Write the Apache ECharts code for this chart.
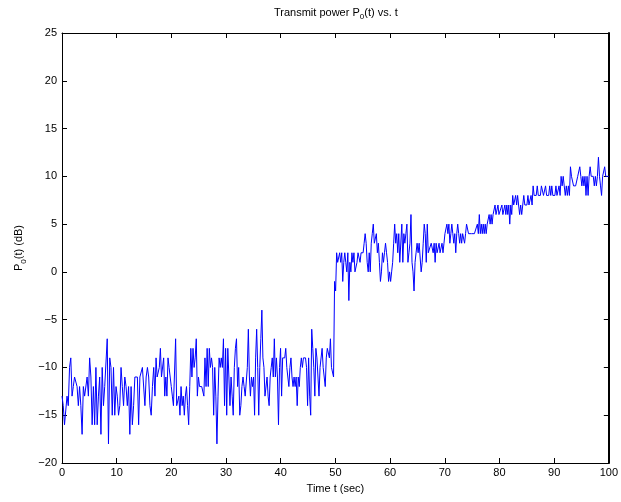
<!DOCTYPE html>
<html><head><meta charset="utf-8">
<script src="https://cdn.jsdelivr.net/npm/echarts@6/dist/echarts.min.js"></script>
<style>html,body{margin:0;padding:0;background:#fff}#c{width:621px;height:502px}</style>
</head><body><div id="c"></div>
<script>
// Tick values
const xTicks = [0,10,20,30,40,50,60,70,80,90,100];
const yTicks = [-20,-15,-10,-5,0,5,10,15,20,25];

// Transmit power P0(t) in dB, read in time segments (start/end seconds)
const segStarts = [0, 17.0, 33.7, 49.85, 66.8, 83.5];
const segEnds   = [17.0, 33.7, 49.85, 66.8, 83.5, 100];

const power1 = [-13,-14,-16,-16,-13,-14,-10,-9,-13,-12,-11,-11,-12,-14,-12,-14,-17,-12,-13,-13,-11,-13,-9,-11,-16,-12,-16,-10,-16,-13,-11,-17,-10,-14,-12,-12,-7,-18,-9,-10,-15,-10,-15,-12,-13,-15,-14,-10,-12,-14,-11,-12,-14,-12,-17,-12,-16,-14,-11,-11,-11,-16,-11,-11,-10,-10,-14,-11,-10,-11,-14,-15,-12,-10];
const power2 = [-13,-9,-11,-11,-10,-8,-11,-11,-9,-13,-11,-13,-9,-10,-11,-12,-13,-14,-14,-7,-14,-14,-13,-15,-12,-14,-13,-15,-13,-12,-14,-16,-12,-8,-11,-8,-10,-9,-7,-13,-11,-12,-12,-12,-12,-13,-9,-12,-8,-12,-8,-10,-9,-10,-15,-10,-13,-18,-13,-9,-10,-9,-10,-7,-14,-8,-15,-8,-11,-14,-11,-13,-15,-10,-8,-7,-12,-10,-15,-14,-12,-11,-12,-13];
const power3 = [-13,-10,-6,-11,-13,-11,-12,-11,-15,-9,-6,-10,-15,-10,-7,-4,-9,-10,-13,-13,-11,-13,-14,-11,-10,-9,-11,-7,-11,-9,-11,-16,-10,-8,-13,-9,-9,-9,-8,-10,-11,-12,-10,-9,-11,-12,-11,-12,-11,-14,-11,-12,-10,-9,-10,-9,-9,-9,-10,-14,-9,-13,-15,-6,-8,-10,-13,-8,-9,-9,-13,-10,-10,-8,-10,-10,-12,-9,-8,-8,-9,-7,-10,-10,-11];
const power4 = [-1,-2,2,1,1,2,1,2,-1,1,2,1,0,2,-3,1,0,2,1,2,0,0,1,2,2,1,2,2,2,3,4,3,1,0,2,0,3,4,5,3,3,4,2,3,1,-1,0,2,1,2,3,2,1,-1,0,-1,0,1,3,5,3,4,2,4,1,1,5,1,4,3,4,5,1,2,3,6,1,0,-2,1,2,3,2,3,3,0,1,3,5,4,1];
const power5 = [5,2,2,2,3,3,2,3,1,3,2,2,3,2,2,3,2,3,4,4,5,4,5,3,4,5,4,3,4,2,4,5,4,3,4,3,4,4,3,4,5,5,4,4,4,4,4,4,4,4,4,5,4,6,4,5,4,5,4,5,4,5,5,6,5,6,5,6,6,7,6,6,7,6,6,6,7,6,6,7,6,7,6,7,5,7,6,8,7,7,8,7,8];
const power6 = [7,6,7,6,7,8,7,7,7,8,7,7,8,7,9,8,8,8,9,8,8,8,9,9,8,8,9,8,8,8,9,8,9,8,8,8,9,8,8,9,8,10,9,10,9,8,9,8,9,8,11,10,10,9,9,9,9,10,10,11,10,9,10,9,10,8,10,8,10,11,10,10,10,9,10,9,10,12,10,9,8,10,10,11,10,10,10,10];

const segments = [power1, power2, power3, power4, power5, power6];
const lineData = [];
segments.forEach((seg, k) => {
  const last = k === segments.length - 1;
  const step = (segEnds[k] - segStarts[k]) / (last ? seg.length - 1 : seg.length);
  seg.forEach((v, i) => lineData.push([segStarts[k] + i * step, v]));
});

const FONT = "'Liberation Sans', Arial, Helvetica, sans-serif";
const fmtNum = v => (v < 0 ? '\u2212' + Math.abs(v) : String(v));
const boxLine = w => ({show: true, onZero: false, lineStyle: {color: '#000', width: w}});
const inTick = {show: true, inside: true, length: 5, lineStyle: {color: '#000', width: 1}};

const chart = echarts.init(document.getElementById('c'), null, {renderer: 'canvas'});
chart.setOption({
  animation: false,
  backgroundColor: '#ffffff',
  grid: {left: 62, right: 9, top: 33, bottom: 39, containLabel: false},
  graphic: [{
    type: 'text',
    left: 274,
    top: 7,
    style: {
      text: '{a|Transmit power P}{s|0}{a|(t) vs. t}',
      rich: {
        a: {fontFamily: FONT, fontSize: 11, fill: '#000', lineHeight: 16},
        s: {fontFamily: FONT, fontSize: 8, fill: '#000', lineHeight: 8, verticalAlign: 'bottom'}
      }
    }
  }],
  xAxis: [{
    type: 'value', position: 'bottom', min: xTicks[0], max: xTicks[xTicks.length-1], interval: 10,
    name: 'Time t (sec)', nameLocation: 'middle', nameGap: 20,
    nameTextStyle: {fontFamily: FONT, fontSize: 11, color: '#000'},
    axisLine: boxLine(1),
    axisTick: inTick,
    axisLabel: {fontFamily: FONT, fontSize: 11, color: '#000', margin: 4, formatter: fmtNum},
    splitLine: {show: false}
  }, {
    type: 'value', position: 'top', min: xTicks[0], max: xTicks[xTicks.length-1], interval: 10,
    axisLine: boxLine(1),
    axisTick: inTick,
    axisLabel: {show: false}, splitLine: {show: false}
  }],
  yAxis: [{
    type: 'value', position: 'left', min: yTicks[0], max: yTicks[yTicks.length-1], interval: 5,
    name: '{a|P}{s|0}{a|(t) (dB)}', nameLocation: 'middle', nameGap: 31, nameRotate: 90,
    nameTextStyle: {
      rich: {
        a: {fontFamily: FONT, fontSize: 11, color: '#000', lineHeight: 16},
        s: {fontFamily: FONT, fontSize: 8, color: '#000', lineHeight: 8, verticalAlign: 'bottom'}
      }
    },
    axisLine: boxLine(1),
    axisTick: inTick,
    axisLabel: {fontFamily: FONT, fontSize: 11, color: '#000', margin: 5, formatter: fmtNum},
    splitLine: {show: false}
  }, {
    type: 'value', position: 'right', min: yTicks[0], max: yTicks[yTicks.length-1], interval: 5,
    axisLine: boxLine(2),
    axisTick: inTick,
    axisLabel: {show: false}, splitLine: {show: false}
  }],
  series: [{
    type: 'line', xAxisIndex: 0, yAxisIndex: 0,
    data: lineData, showSymbol: false, symbol: 'none',
    lineStyle: {color: '#0000ff', width: 1}, itemStyle: {color: '#0000ff'}
  }]
});
</script>
</body></html>
